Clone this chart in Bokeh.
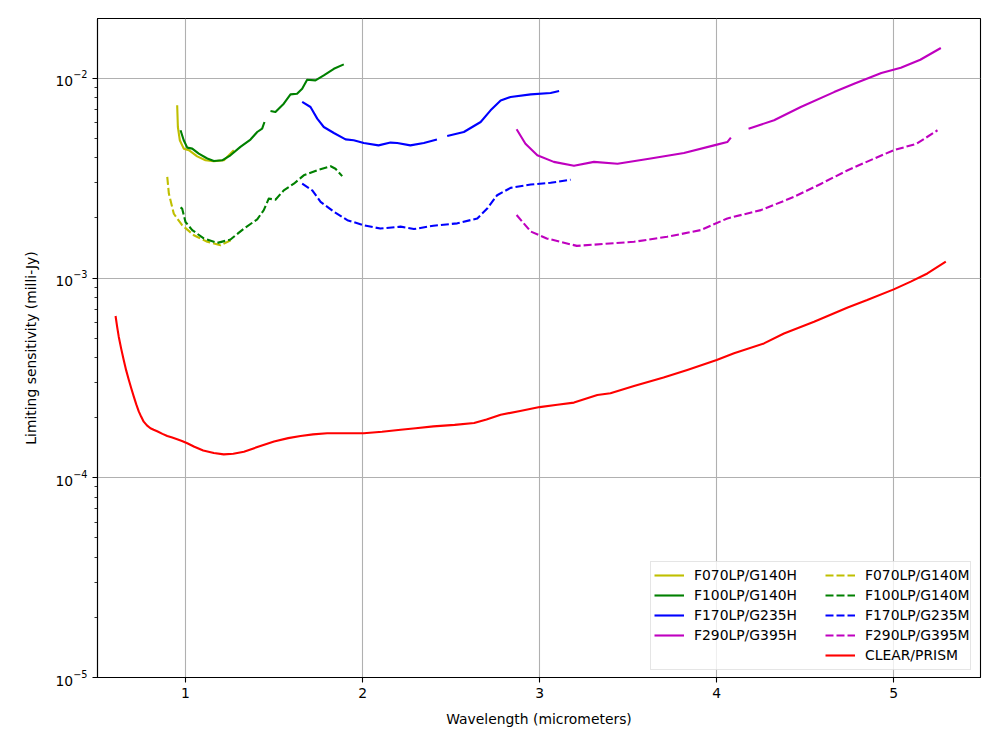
import math
from bokeh.plotting import figure
from bokeh.models import Legend, LegendItem, FixedTicker, Range1d
from bokeh.embed import file_html
from bokeh.resources import INLINE

NAN = float("nan")

# ---- data ----
f070_h_x = [0.953, 0.957, 0.968, 0.99, 1.019, 1.066, 1.113, 1.16, 1.217, 1.273]
f070_h_y = [7.33e-3, 5.71e-3, 4.9e-3, 4.45e-3, 4.37e-3, 4.07e-3, 3.89e-3, 3.85e-3, 3.89e-3, 4.37e-3]

f100_h_x = [0.972, 0.99, 1.01, 1.038, 1.075, 1.123, 1.16, 1.207, 1.254, 1.31, 1.367, 1.405, 1.433, 1.446,
            NAN, 1.48, 1.508, 1.555, 1.593, 1.63, 1.659, 1.687, 1.734, 1.781, 1.838, 1.894]
f100_h_y = [5.5e-3, 4.9e-3, 4.5e-3, 4.45e-3, 4.2e-3, 3.97e-3, 3.86e-3, 3.89e-3, 4.12e-3, 4.54e-3, 4.94e-3,
            5.39e-3, 5.6e-3, 6.05e-3,
            NAN, 6.87e-3, 6.79e-3, 7.47e-3, 8.32e-3, 8.38e-3, 8.88e-3, 9.84e-3, 9.77e-3, 1.035e-2, 1.117e-2, 1.175e-2]

f170_h_x = [1.659, 1.706, 1.744, 1.781, 1.838, 1.904, 1.95, 2.007, 2.09, 2.158, 2.196, 2.27, 2.346, 2.42,
            NAN, 2.478, 2.572, 2.667, 2.723, 2.78, 2.836, 2.95, 3.062, 3.11]
f170_h_y = [7.62e-3, 7.19e-3, 6.29e-3, 5.71e-3, 5.33e-3, 4.95e-3, 4.9e-3, 4.75e-3, 4.62e-3, 4.77e-3, 4.75e-3,
            4.62e-3, 4.75e-3, 4.94e-3,
            NAN, 5.15e-3, 5.39e-3, 6.05e-3, 6.92e-3, 7.76e-3, 8.07e-3, 8.32e-3, 8.45e-3, 8.64e-3]

f290_h_x = [2.87, 2.92, 2.987, 3.08, 3.194, 3.307, 3.44, 3.627, 3.815, 3.985, 4.06, 4.08,
            NAN, 4.18, 4.324, 4.475, 4.663, 4.776, 4.93, 5.04, 5.15, 5.266]
f290_h_y = [5.56e-3, 4.71e-3, 4.12e-3, 3.82e-3, 3.65e-3, 3.82e-3, 3.74e-3, 3.97e-3, 4.23e-3, 4.62e-3, 4.8e-3, 5.05e-3,
            NAN, 5.6e-3, 6.17e-3, 7.19e-3, 8.54e-3, 9.4e-3, 1.064e-2, 1.13e-2, 1.24e-2, 1.42e-2]

f070_m_x = [0.897, 0.906, 0.934, 0.981, 1.047, 1.123, 1.198, 1.264]
f070_m_y = [3.21e-3, 2.65e-3, 2.1e-3, 1.84e-3, 1.64e-3, 1.52e-3, 1.46e-3, 1.56e-3]

f100_m_x = [0.972, 0.981, 1.0, 1.038, 1.103, 1.179, 1.254, 1.33, 1.405, 1.442, 1.47, 1.508, 1.555,
            1.612, 1.668, 1.744, 1.82, 1.847, 1.885]
f100_m_y = [2.26e-3, 2.23e-3, 1.91e-3, 1.74e-3, 1.58e-3, 1.5e-3, 1.56e-3, 1.77e-3, 1.97e-3, 2.19e-3, 2.5e-3,
            2.47e-3, 2.75e-3, 2.97e-3, 3.27e-3, 3.47e-3, 3.63e-3, 3.53e-3, 3.24e-3]

f170_m_x = [1.659, 1.716, 1.763, 1.838, 1.914, 2.007, 2.10, 2.215, 2.29, 2.40, 2.535, 2.648, 2.704,
            2.76, 2.836, 2.95, 3.062, 3.175]
f170_m_y = [2.97e-3, 2.75e-3, 2.41e-3, 2.15e-3, 1.95e-3, 1.84e-3, 1.77e-3, 1.81e-3, 1.76e-3, 1.83e-3, 1.88e-3,
            1.99e-3, 2.23e-3, 2.6e-3, 2.83e-3, 2.94e-3, 3.0e-3, 3.11e-3]

f290_m_x = [2.87, 2.95, 3.04, 3.21, 3.533, 3.72, 3.91, 4.06, 4.25, 4.436, 4.59, 4.74, 4.89, 5.0, 5.13, 5.247]
f290_m_y = [2.07e-3, 1.71e-3, 1.58e-3, 1.45e-3, 1.52e-3, 1.61e-3, 1.74e-3, 1.99e-3, 2.19e-3, 2.55e-3, 2.97e-3,
            3.47e-3, 3.97e-3, 4.37e-3, 4.71e-3, 5.5e-3]

prism_x = [0.605, 0.614, 0.623, 0.637, 0.651, 0.665, 0.68, 0.694, 0.708, 0.722, 0.736, 0.75, 0.764, 0.782,
           0.802, 0.82, 0.84, 0.87, 0.897, 0.925, 0.953, 0.98, 1.01, 1.05, 1.10, 1.16, 1.216, 1.27, 1.33,
           1.41, 1.50, 1.58, 1.65, 1.72, 1.80, 1.90, 2.007, 2.11, 2.215, 2.30, 2.40, 2.52, 2.63, 2.70, 2.78,
           2.89, 3.0, 3.10, 3.194, 3.326, 3.40, 3.533, 3.70, 3.834, 4.0, 4.098, 4.267, 4.38, 4.55, 4.74, 4.85,
           5.0, 5.096, 5.19, 5.294]
prism_y = [6.46e-4, 5.7e-4, 5.09e-4, 4.42e-4, 3.89e-4, 3.45e-4, 3.09e-4, 2.8e-4, 2.55e-4, 2.33e-4, 2.15e-4,
           2.02e-4, 1.91e-4, 1.83e-4, 1.77e-4, 1.74e-4, 1.71e-4, 1.66e-4, 1.62e-4, 1.59e-4, 1.56e-4, 1.53e-4,
           1.49e-4, 1.43e-4, 1.37e-4, 1.33e-4, 1.31e-4, 1.32e-4, 1.35e-4, 1.43e-4, 1.52e-4, 1.58e-4, 1.62e-4,
           1.65e-4, 1.67e-4, 1.67e-4, 1.67e-4, 1.70e-4, 1.74e-4, 1.77e-4, 1.81e-4, 1.84e-4, 1.88e-4, 1.96e-4,
           2.07e-4, 2.16e-4, 2.26e-4, 2.32e-4, 2.38e-4, 2.60e-4, 2.65e-4, 2.88e-4, 3.18e-4, 3.47e-4, 3.89e-4,
           4.20e-4, 4.71e-4, 5.28e-4, 6.05e-4, 7.13e-4, 7.76e-4, 8.78e-4, 9.6e-4, 1.055e-3, 1.21e-3]

x_ticks = [1, 2, 3, 4, 5]
y_ticks = [1e-5, 1e-4, 1e-3, 1e-2]
y_minor = [m * 10.0 ** e for e in (-5, -4, -3, -2) for m in range(2, 10) if m * 10.0 ** e < 0.02]

FONT = "DejaVu Sans"
FS = "13.9px"

p = figure(width=984, height=734, x_range=Range1d(0.503, 5.49), y_range=Range1d(1e-5, 0.01995),
           y_axis_type="log", output_backend="svg", toolbar_location=None,
           min_border_left=97, min_border_right=4, min_border_top=18, min_border_bottom=57)

LW = 2.1
DASH = "8 3"
kw = dict(line_width=LW, line_join="round")
r_070h = p.line(f070_h_x, f070_h_y, line_color="#bfbf00", **kw)
r_100h = p.line(f100_h_x, f100_h_y, line_color="#008000", **kw)
r_170h = p.line(f170_h_x, f170_h_y, line_color="#0000ff", **kw)
r_290h = p.line(f290_h_x, f290_h_y, line_color="#bf00bf", **kw)
r_070m = p.line(f070_m_x, f070_m_y, line_color="#bfbf00", line_dash=DASH, **kw)
r_100m = p.line(f100_m_x, f100_m_y, line_color="#008000", line_dash=DASH, **kw)
r_170m = p.line(f170_m_x, f170_m_y, line_color="#0000ff", line_dash=DASH, **kw)
r_290m = p.line(f290_m_x, f290_m_y, line_color="#bf00bf", line_dash=DASH, **kw)
r_prism = p.line(prism_x, prism_y, line_color="#ff0000", **kw)
r_dummy = p.line(x=[], y=[], line_alpha=0)

# axes
p.xaxis.ticker = FixedTicker(ticks=x_ticks)
p.yaxis.ticker = FixedTicker(ticks=y_ticks, minor_ticks=y_minor)
for ax in (p.xaxis, p.yaxis):
    ax.major_label_text_font = FONT
    ax.major_label_text_font_size = FS
    ax.major_label_text_color = "black"
    ax.axis_label_text_font = FONT
    ax.axis_label_text_font_size = FS
    ax.axis_label_text_font_style = "normal"
    ax.axis_label_text_color = "black"
    ax.axis_line_color = "black"
    ax.axis_line_width = 1.1
    ax.major_tick_line_color = "black"
    ax.major_tick_line_width = 1.1
    ax.major_tick_out = 5
    ax.major_tick_in = 0
    ax.minor_tick_line_color = "black"
    ax.minor_tick_line_width = 0.8
    ax.minor_tick_out = 3
    ax.minor_tick_in = 0
    ax.major_label_standoff = 5
p.xaxis.minor_tick_line_color = None
p.xaxis.axis_label = "Wavelength (micrometers)"
p.yaxis.axis_label = "Limiting sensitivity (milli-Jy)"
p.xaxis.axis_label_standoff = 10
p.yaxis.axis_label_standoff = 13

p.grid.grid_line_color = "#b0b0b0"
p.grid.grid_line_width = 1.1
p.outline_line_color = "black"
p.outline_line_width = 1.1
p.outline_line_alpha = 1

# legend: a box, plus two columns
box = Legend(items=[LegendItem(label=" ", renderers=[r_dummy])], location=(553, 7),
             padding=0, spacing=0, margin=0, glyph_width=319, glyph_height=107, label_height=107,
             label_width=0, label_standoff=0, border_line_color="#cccccc", border_line_width=1,
             background_fill_color="white", background_fill_alpha=0.8,
             label_text_font=FONT, label_text_font_size=FS)

common = dict(padding=0, spacing=2, margin=0, glyph_width=30, glyph_height=18, label_height=18,
              label_standoff=10, border_line_alpha=0, background_fill_alpha=0,
              label_text_font=FONT, label_text_font_size=FS, label_text_color="black")

col1 = Legend(items=[LegendItem(label="F070LP/G140H", renderers=[r_070h]),
                     LegendItem(label="F100LP/G140H", renderers=[r_100h]),
                     LegendItem(label="F170LP/G235H", renderers=[r_170h]),
                     LegendItem(label="F290LP/G395H", renderers=[r_290h])],
              location=(557, 33), **common)
col2 = Legend(items=[LegendItem(label="F070LP/G140M", renderers=[r_070m]),
                     LegendItem(label="F100LP/G140M", renderers=[r_100m]),
                     LegendItem(label="F170LP/G235M", renderers=[r_170m]),
                     LegendItem(label="F290LP/G395M", renderers=[r_290m]),
                     LegendItem(label="CLEAR/PRISM", renderers=[r_prism])],
              location=(728, 13), **common)
p.add_layout(box, "center")
p.add_layout(col1, "center")
p.add_layout(col2, "center")

open("out.html", "w").write(file_html(p, INLINE))
